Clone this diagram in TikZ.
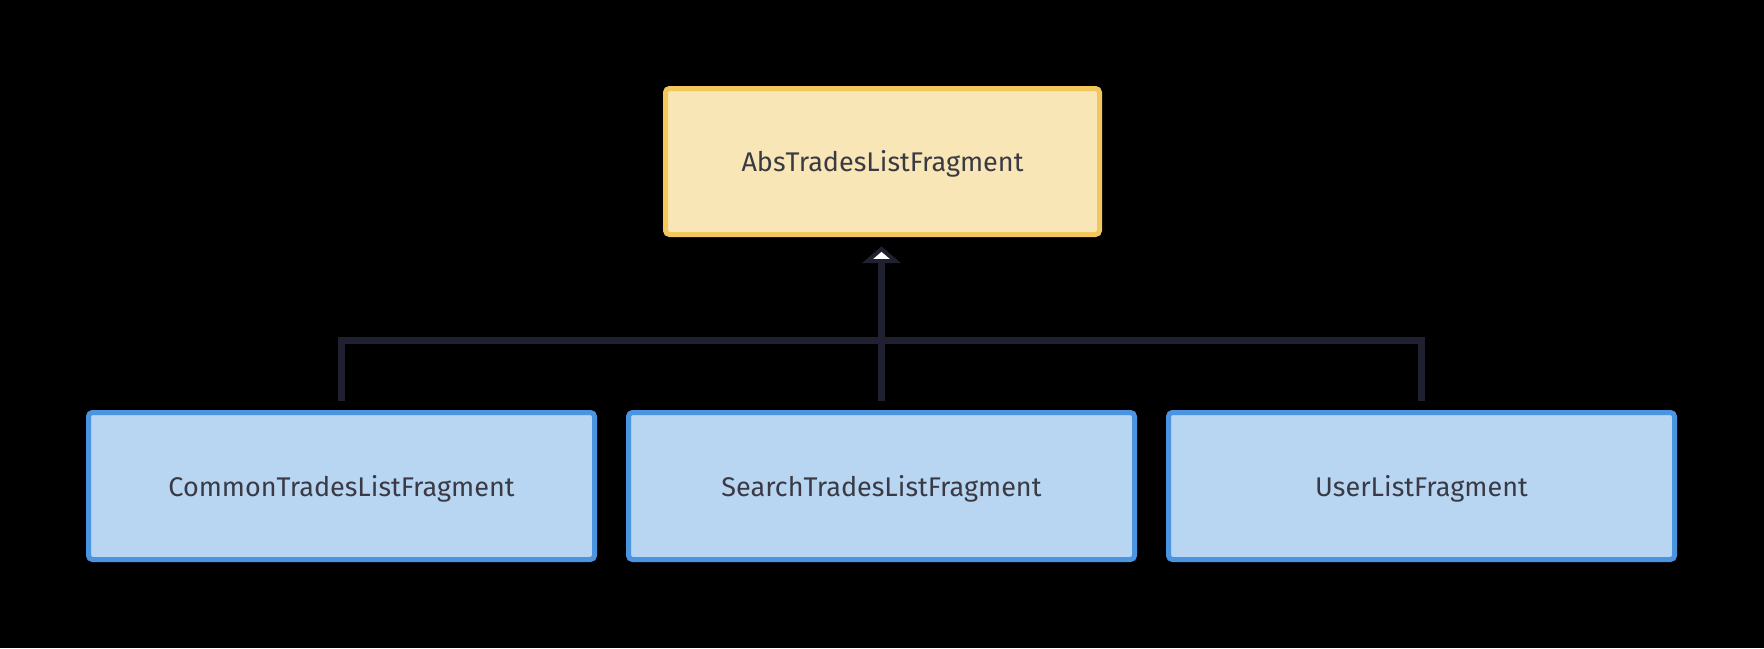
\documentclass[tikz,border=0pt]{standalone}
\usepackage{fontspec}
\setmainfont{Fira Sans}
\usetikzlibrary{arrows.meta}
\definecolor{ybord}{HTML}{F2C75C}
\definecolor{yfill}{HTML}{F8E6B6}
\definecolor{bbord}{HTML}{4A94E0}
\definecolor{bfill}{HTML}{B8D6F2}
\definecolor{conncol}{HTML}{1F2030}
\definecolor{txt}{HTML}{3A3A44}
\tikzset{
  box/.style={draw, line width=5pt, rounded corners=4pt, inner sep=0pt},
  lbl/.style={text=txt, font=\fontsize{27}{32}\selectfont},
  parentbox/.style={box, draw=ybord, fill=yfill, minimum width=434pt, minimum height=146pt},
  childbox/.style={box, draw=bbord, fill=bfill, minimum width=506pt, minimum height=147pt},
  conn/.style={draw=conncol, line width=7pt},
  hollowtip/.style={draw=conncol, fill=white, line width=4pt, miter limit=10},
}
\begin{document}
\begin{tikzpicture}[x=1pt,y=-1pt]
\fill[black] (0,0) rectangle (1764,648);
\useasboundingbox (0,0) rectangle (1764,648);
\node[parentbox] (top) at (882.5,161.5) {};
\node[lbl] (toplbl) at (882.5,164) {AbsTradesListFragment};
\node[childbox] (left) at (341.5,486) {};
\node[childbox] (mid) at (881.5,486) {};
\node[childbox] (right) at (1421.5,486) {};
\node[lbl] (leftlbl) at (341.5,488.5) {CommonTradesListFragment};
\node[lbl] (midlbl) at (881.5,488.5) {SearchTradesListFragment};
\node[lbl] (rightlbl) at (1421.5,488.5) {UserListFragment};
\coordinate (bus) at (881.5,340);
\coordinate (tipbase) at (881.5,261);
\draw[conn, shorten <=9pt, shorten >=9pt] (left.north) |- (bus) -| (right.north);
\draw[conn, shorten <=9pt] (mid.north) -- (tipbase);
\draw[hollowtip] (tipbase) ++(-14,0) -- ++(14,-12) -- ++(14,12) -- cycle;
\end{tikzpicture}
\end{document}
